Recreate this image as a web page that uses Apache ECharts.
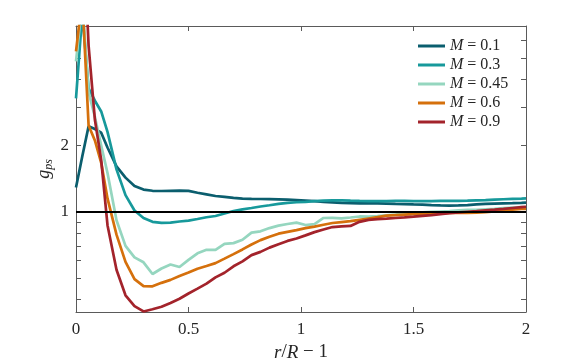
<!DOCTYPE html>
<html>
<head>
<meta charset="utf-8">
<script src="https://cdn.jsdelivr.net/npm/echarts@6/dist/echarts.min.js"></script>
<style>html,body{margin:0;padding:0;background:#fff}#c{width:581px;height:363px}</style>
</head>
<body>
<div id="c"></div>
<script>
// r/R - 1 sample positions
const xs = [0, 0.028, 0.056, 0.084, 0.112,
  0.14, 0.18, 0.22, 0.26, 0.30, 0.34, 0.38, 0.42, 0.46, 0.50,
  0.54, 0.58, 0.62, 0.66, 0.70, 0.74, 0.78, 0.82, 0.86, 0.90,
  0.94, 0.98, 1.02, 1.06, 1.10, 1.14, 1.18, 1.22, 1.26, 1.30,
  1.34, 1.38, 1.42, 1.46, 1.50, 1.54, 1.58, 1.62, 1.66, 1.70,
  1.74, 1.78, 1.82, 1.86, 1.90, 1.94, 1.98, 2.0];

const gM01 = [1.29, 1.79, 2.45, 2.38, 2.29,
  1.96, 1.61, 1.43, 1.31, 1.262, 1.246, 1.243, 1.246, 1.248, 1.244,
  1.22, 1.2, 1.18, 1.169, 1.157, 1.148, 1.145, 1.143, 1.141, 1.139,
  1.135, 1.13, 1.124, 1.117, 1.109, 1.103, 1.097, 1.094, 1.092, 1.092,
  1.092, 1.09, 1.086, 1.083, 1.08, 1.078, 1.073, 1.069, 1.066, 1.069,
  1.073, 1.08, 1.086, 1.09, 1.092, 1.094, 1.097, 1.1];

const gM03 = [3.28, 8.0, 3.64, 3.2, 2.86,
  2.31, 1.56, 1.19, 1.014, 0.937, 0.9, 0.89, 0.892, 0.903, 0.912,
  0.927, 0.944, 0.957, 0.982, 1.008, 1.025, 1.04, 1.057, 1.071, 1.086,
  1.097, 1.105, 1.11, 1.117, 1.123, 1.127, 1.127, 1.123, 1.12, 1.118,
  1.118, 1.118, 1.12, 1.12, 1.118, 1.118, 1.118, 1.12, 1.12, 1.12,
  1.123, 1.127, 1.13, 1.135, 1.14, 1.145, 1.148, 1.15];

const gM045 = [4.83, 9.0, 3.5, 2.7, 2.0,
  1.5, 0.915, 0.70, 0.62, 0.589, 0.521, 0.552, 0.576, 0.561, 0.604,
  0.647, 0.671, 0.671, 0.715, 0.72, 0.746, 0.804, 0.815, 0.843, 0.865,
  0.88, 0.893, 0.87, 0.879, 0.937, 0.939, 0.934, 0.942, 0.952, 0.95,
  0.956, 0.964, 0.972, 0.982, 0.988, 0.993, 0.998, 1.003, 1.008, 1.014,
  1.02, 1.02, 1.025, 1.03, 1.04, 1.046, 1.05, 1.05];

const gM06 = [5.37, 9.4, 2.47, 2.11, 1.67,
  1.15, 0.787, 0.592, 0.494, 0.459, 0.458, 0.475, 0.49, 0.51, 0.529,
  0.551, 0.567, 0.584, 0.612, 0.642, 0.674, 0.71, 0.743, 0.769, 0.795,
  0.81, 0.825, 0.842, 0.856, 0.873, 0.889, 0.898, 0.906, 0.919, 0.932,
  0.945, 0.96, 0.965, 0.97, 0.975, 0.978, 0.981, 0.984, 0.987, 0.988,
  0.989, 0.99, 0.995, 1.005, 1.015, 1.022, 1.03, 1.03];

const gM09 = [60, 24, 5.7, 2.62, 1.72,
  0.869, 0.545, 0.417, 0.372, 0.352, 0.36, 0.37, 0.385, 0.402, 0.425,
  0.447, 0.471, 0.503, 0.528, 0.565, 0.595, 0.635, 0.657, 0.687, 0.712,
  0.737, 0.756, 0.781, 0.808, 0.83, 0.852, 0.858, 0.862, 0.9, 0.919,
  0.926, 0.931, 0.937, 0.943, 0.95, 0.958, 0.966, 0.975, 0.985, 0.993,
  1.0, 1.007, 1.015, 1.022, 1.03, 1.04, 1.05, 1.054];

const seriesNames = ['M = 0.1', 'M = 0.3', 'M = 0.45', 'M = 0.6', 'M = 0.9'];
const seriesValues = [gM01, gM03, gM045, gM06, gM09];
const seriesColors = ['#0b5e6e', '#17999b', '#95d6bf', '#d5700c', '#a3232b'];

const xTicks = [0, 0.5, 1, 1.5, 2];
const yLabelValues = [1, 2];
const yTickValues = [0.4, 0.5, 0.6, 0.7, 0.8, 0.9, 1, 2, 3, 4, 5, 6, 7];
const refLine = 1;

const FONT = 'Liberation Serif';
const axisCol = '#5a5a5a';
const textCol = '#262626';

const chart = echarts.init(document.getElementById('c'), null, {renderer: 'canvas'});

const series = seriesNames.map((n, k) => ({
  name: n,
  type: 'line',
  data: xs.map((x, i) => [x, seriesValues[k][i]]),
  symbol: 'none',
  showSymbol: false,
  clip: true,
  lineStyle: {color: seriesColors[k], width: 2.7},
  itemStyle: {color: seriesColors[k]},
  z: 3
}));
series.push({
  name: 'ref', type: 'line', data: [], z: 6,
  markLine: {
    silent: true, symbol: 'none', animation: false,
    label: {show: false},
    lineStyle: {color: '#000', width: 2, type: 'solid'},
    data: [{yAxis: refLine}]
  }
});

const option = {
  animation: false,
  backgroundColor: '#fff',
  grid: {left: 76, top: 26, width: 450, height: 286, containLabel: false, outerBoundsMode: 'none'},
  legend: {
    data: seriesNames,
    orient: 'vertical',
    left: 418, top: 38,
    icon: 'rect',
    itemWidth: 27, itemHeight: 3, itemGap: 3,
    padding: 0,
    formatter: (n) => '{i|M}{t|' + n.slice(1) + '}',
    textStyle: {
      color: textCol, fontFamily: FONT, fontSize: 16,
      rich: {
        i: {fontStyle: 'italic', fontFamily: FONT, fontSize: 16, color: textCol, height: 16},
        t: {fontFamily: FONT, fontSize: 16, color: textCol, height: 16}
      }
    }
  },
  xAxis: [{
    type: 'value', min: 0, max: 2, interval: 0.5,
    position: 'bottom',
    axisLine: {show: true, onZero: false, lineStyle: {color: axisCol, width: 1}},
    axisTick: {show: true, inside: true, length: 5, lineStyle: {color: axisCol}},
    axisLabel: {
      color: textCol, fontFamily: FONT, fontSize: 17, margin: 9,
      formatter: (v) => xTicks.includes(v) ? String(v) : ''
    },
    splitLine: {show: false},
    name: '{i|r}/{i|R} − 1',
    nameLocation: 'middle', nameGap: 31,
    nameTextStyle: {
      color: textCol, fontFamily: FONT, fontSize: 19,
      rich: {i: {fontStyle: 'italic', fontFamily: FONT, fontSize: 19, color: textCol}}
    }
  }, {
    type: 'value', min: 0, max: 2, interval: 0.5,
    position: 'top',
    axisLine: {show: true, onZero: false, lineStyle: {color: axisCol, width: 1}},
    axisTick: {show: true, inside: true, length: 5, lineStyle: {color: axisCol}},
    axisLabel: {show: false},
    splitLine: {show: false}
  }],
  yAxis: [{
    type: 'log', logBase: 10, min: 0.35, max: 7,
    position: 'left',
    axisLine: {show: true, onZero: false, lineStyle: {color: axisCol, width: 1}},
    axisTick: {show: true, inside: true, length: 5, customValues: yTickValues, lineStyle: {color: axisCol}},
    minorTick: {show: false},
    axisLabel: {
      show: true, customValues: yLabelValues,
      color: textCol, fontFamily: FONT, fontSize: 17, margin: 7,
      formatter: (v) => String(Math.round(v * 100) / 100)
    },
    splitLine: {show: false},
    name: '{g|g}{s|ps}',
    nameLocation: 'middle', nameGap: 21, nameRotate: 90, nameMoveOverlap: false,
    nameTextStyle: {
      color: textCol, fontFamily: FONT,
      rich: {
        g: {fontStyle: 'italic', fontFamily: FONT, fontSize: 18, color: textCol, lineHeight: 22, verticalAlign: 'middle'},
        s: {fontStyle: 'italic', fontFamily: FONT, fontSize: 12, color: textCol, lineHeight: 22, verticalAlign: 'bottom', padding: [8, 0, 0, 0]}
      }
    }
  }, {
    type: 'log', logBase: 10, min: 0.35, max: 7,
    position: 'right',
    axisLine: {show: true, onZero: false, lineStyle: {color: axisCol, width: 1}},
    axisTick: {show: true, inside: true, length: 5, customValues: yTickValues, lineStyle: {color: axisCol}},
    minorTick: {show: false},
    axisLabel: {show: false},
    splitLine: {show: false}
  }],
  series: series
};
chart.setOption(option);
</script>
</body>
</html>
